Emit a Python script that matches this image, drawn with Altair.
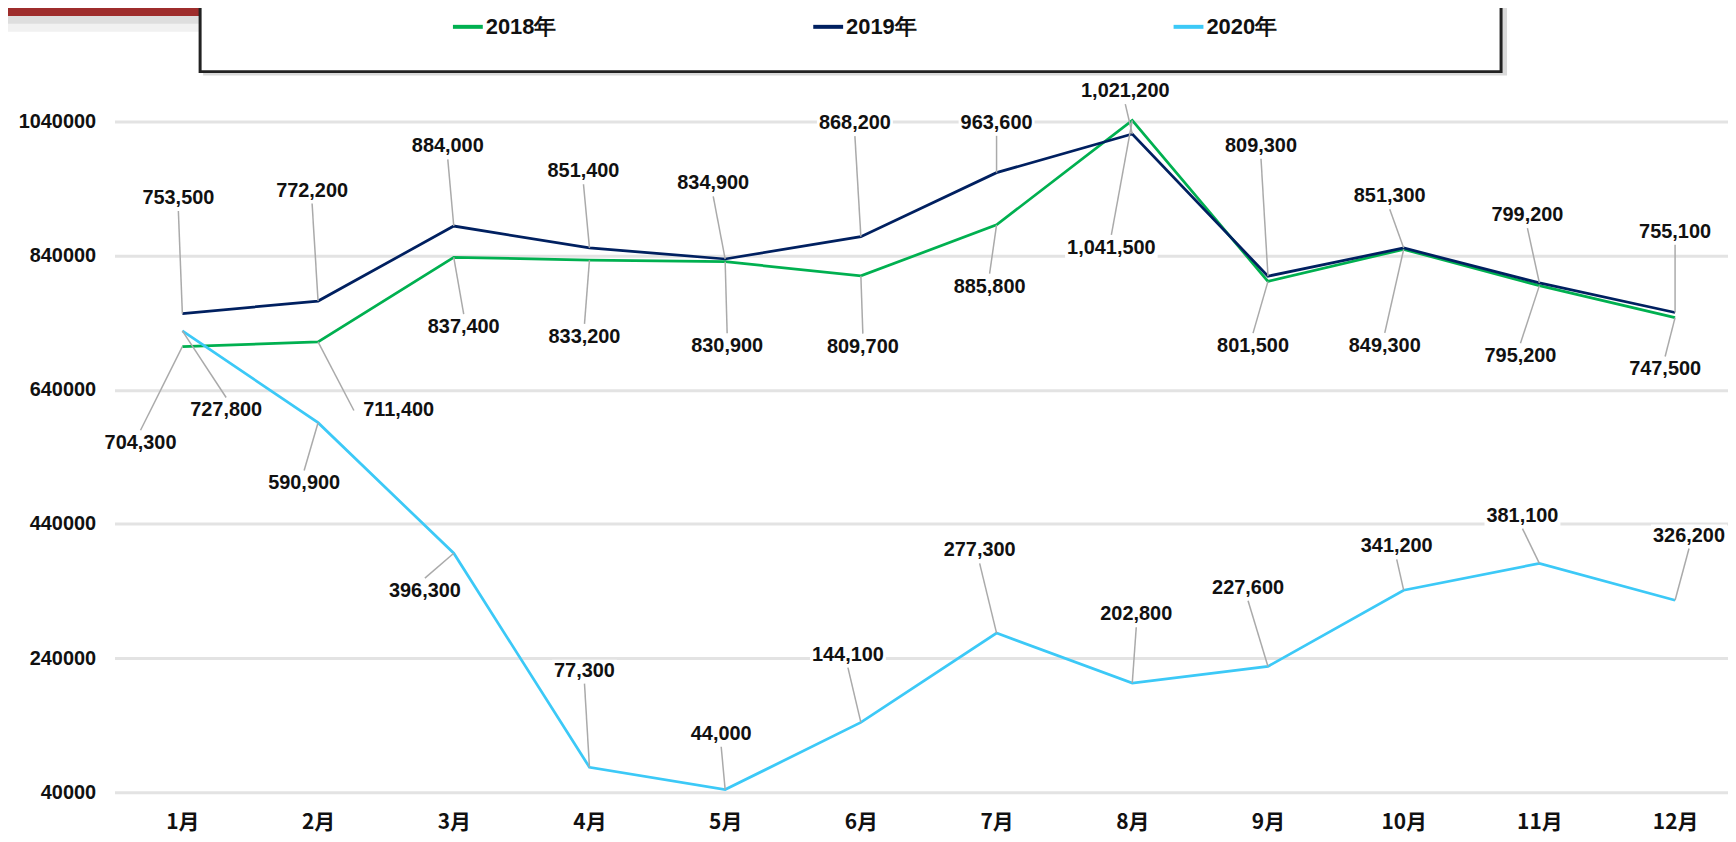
import altair as alt
import pandas as pd

# ---------------- data ----------------
months = list(range(1, 13))
series_names = ["2018年", "2019年", "2020年"]
sales_2018 = [704300, 711400, 837400, 833200, 830900, 809700, 885800, 1041500, 801500, 849300, 795200, 747500]
sales_2019 = [753500, 772200, 884000, 851400, 834900, 868200, 963600, 1021200, 809300, 851300, 799200, 755100]
sales_2020 = [727800, 590900, 396300, 77300, 44000, 144100, 277300, 202800, 227600, 341200, 381100, 326200]
y_ticks = [40000, 240000, 440000, 640000, 840000, 1040000]

# data-label placement (pixel offsets of the label centre from its point)
label_dx_2018 = [-42, 81, 10, -5, 2, 2, -7, -21, -15, -19, -19, -10]
label_dy_2018 = [97, 69, 70, 77, 85, 71, 62, 128, 65, 97, 71, 52]
label_dx_2019 = [-4, -6, -6, -6, -12, -6, 0, -7, -7, -14, -12, 0]
label_dy_2019 = [-116, -111, -80, -77, -76, -114, -50, -43, -131, -52, -68, -81]
label_dx_2020 = [44, -14, -29, -5, -4, -13, -17, 4, -20, -7, -17, 14]
label_dy_2020 = [80, 61, 38, -97, -56, -68, -83, -69, -79, -44, -48, -65]

colors = ["#00b050", "#002060", "#3cc9f7"]

# ---------------- layout ----------------
W, H = 1621, 674
X_DOMAIN = [0.5, 12.39]
Y_DOMAIN = [40000, 1040000]
PXM = W / (X_DOMAIN[1] - X_DOMAIN[0])          # px per month
UPP = (Y_DOMAIN[1] - Y_DOMAIN[0]) / H           # value units per px
LABEL_FONT = "Liberation Sans"

rows = []
for name, vals, dxs, dys in zip(
    series_names,
    [sales_2018, sales_2019, sales_2020],
    [label_dx_2018, label_dx_2019, label_dx_2020],
    [label_dy_2018, label_dy_2019, label_dy_2020],
):
    for m, v, dx, dy in zip(months, vals, dxs, dys):
        label = f"{v:,}"
        lx = m + dx / PXM
        ly = v - dy * UPP
        if abs(dx) > 60:
            ex = m + (dx - (1 if dx > 0 else -1) * 45) / PXM
            ey = ly
        else:
            ex = lx
            ey = v - (dy - (1 if dy > 0 else -1) * 13) * UPP
        half = sum(11.12 if c.isdigit() else 5.56 for c in label) / 2 + 2
        rows.append(dict(month=m, series=name, value=v, label=label, lx=lx, ly=ly,
                         ex=ex, ey=ey, bx1=lx - half / PXM, bx2=lx + half / PXM,
                         by1=ly - 11 * UPP, by2=ly + 11 * UPP))
df = pd.DataFrame(rows)

xscale = alt.Scale(domain=X_DOMAIN, nice=False, zero=False)
yscale = alt.Scale(domain=Y_DOMAIN, nice=False, zero=False)

x_axis = alt.Axis(values=months, labelExpr="datum.value + '月'", grid=False, domain=False,
                  ticks=False, labelFont="Noto Sans CJK SC", labelFontSize=21,
                  labelFontWeight="bold", labelColor="#111111", labelPadding=30,
                  labelBaseline="middle", title=None)
y_axis = alt.Axis(values=y_ticks, format="d", grid=True, gridColor="#e3e3e3", gridWidth=3,
                  domain=False, ticks=False, labelFont=LABEL_FONT, labelFontSize=20,
                  labelFontWeight="bold", labelColor="#111111", labelPadding=19, title=None)

one = pd.DataFrame({"k": [0]})

# decorations: red title tab and legend frame (partly cut off at the top)
red_shadow2 = alt.Chart(one).mark_rect(fill="#f1f1f1", cornerRadius=10).encode(
    x=alt.value(-140), x2=alt.value(218), y=alt.value(-160), y2=alt.value(-90))
red_shadow1 = alt.Chart(one).mark_rect(fill="#dedede", cornerRadius=8).encode(
    x=alt.value(-140), x2=alt.value(214), y=alt.value(-160), y2=alt.value(-98))
red_tab = alt.Chart(one).mark_rect(fill="#9e2d2c", cornerRadius=7).encode(
    x=alt.value(-140), x2=alt.value(210), y=alt.value(-160), y2=alt.value(-106))
frame_shadow = alt.Chart(one).mark_rect(fill="#dadada").encode(
    x=alt.value(89), x2=alt.value(1399), y=alt.value(-140), y2=alt.value(-46))
frame = alt.Chart(one).mark_rect(fill="white", stroke="#222222", strokeWidth=3).encode(
    x=alt.value(86), x2=alt.value(1393), y=alt.value(-140), y2=alt.value(-50))

base = alt.Chart(df)

lines = base.mark_line(strokeWidth=2.75).encode(
    x=alt.X("month:Q", scale=xscale, axis=x_axis),
    y=alt.Y("value:Q", scale=yscale, axis=y_axis),
    color=alt.Color("series:N", scale=alt.Scale(domain=series_names, range=colors),
                    legend=alt.Legend(orient="none", legendX=338, legendY=-112,
                                      direction="horizontal", title=None,
                                      symbolType="stroke", symbolSize=900,
                                      symbolStrokeWidth=4, labelFont=LABEL_FONT,
                                      labelFontSize=22, labelFontWeight="bold",
                                      labelColor="#111111", columnPadding=250,
                                      labelOffset=1, padding=0, zindex=1)),
    order=alt.Order("month:Q"),
)

leaders = base.mark_rule(color="#aaaaaa", strokeWidth=1.5).encode(
    x=alt.X("month:Q", scale=xscale), y=alt.Y("value:Q", scale=yscale),
    x2="ex:Q", y2="ey:Q")

label_bg = base.mark_rect(fill="white").encode(
    x=alt.X("bx1:Q", scale=xscale), x2="bx2:Q",
    y=alt.Y("by1:Q", scale=yscale), y2="by2:Q")

labels = base.mark_text(font=LABEL_FONT, fontSize=20, fontWeight="bold", color="#111111",
                        align="center", baseline="middle").encode(
    x=alt.X("lx:Q", scale=xscale), y=alt.Y("ly:Q", scale=yscale), text="label:N")

chart = alt.layer(
    red_shadow2, red_shadow1, red_tab, frame_shadow, frame,
    lines, leaders, label_bg, labels,
).properties(
    width=W, height=H,
    autosize=alt.AutoSizeParams(type="none"),
    padding={"left": 107, "top": 112, "right": 0, "bottom": 40},
    background="white",
).configure_view(stroke=None)

chart.save("out.html", embed_options={"renderer": "svg", "actions": False})
